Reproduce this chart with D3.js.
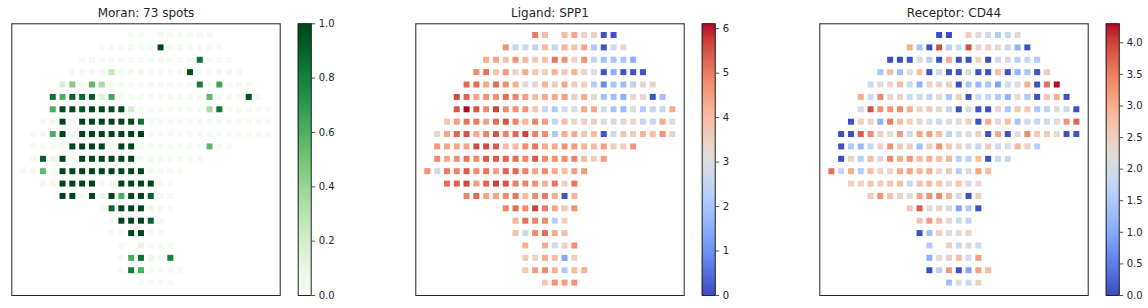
<!DOCTYPE html>
<html>
<head>
<meta charset="utf-8">
<script src="https://cdn.jsdelivr.net/npm/d3@7"></script>
<style>
  body { margin: 0; background: #fff; }
  text { font-family: "DejaVu Sans", sans-serif; fill: #262626; }
</style>
</head>
<body>
<div id="chart"></div>
<script>
// spot grid: first column of each array row (nulls are holes in the grid)
const rowStart = [11, 8, 6, 5, 4, 3, 3, 2, 1, 1, 1, 0, 2, 4, 8, 9, 9, 10, 10, 10, 12];

const L = 0.02; // background spots in the Moran map
const moranRows = [
  [L, L, null, L, L, L, L, L, L],
  [L, L, L, L, L, L, 1, L, L, L, L, L, L],
  [L, L, L, L, L, L, L, L, L, L, L, L, 0.85, L, L, L],
  [L, L, L, L, 0.25, L, L, L, L, L, L, L, 0.97, L, L, L, L, L],
  [0.18, 0.45, 0.03, 0.55, 0.35, L, L, L, L, L, L, L, L, L, 0.8, L, 0.65, L, L, L],
  [0.85, 0.6, 0.9, 0.88, 0.92, 0.15, 0.65, L, L, L, L, L, L, L, L, L, 0.55, L, L, L, 0.95, L],
  [0.6, 1, 1, 0.95, 1, 1, 0.98, 1, 0.2, L, L, L, L, L, L, L, 0.35, 0.82, L, L, L, L, L],
  [L, L, 1, 0.06, 1, 1, 1, 1, 1, 1, 0.85, L, L, L, L, L, L, L, L, L, L, L, L, L],
  [L, L, 0.6, 1, 0.06, 1, 1, 1, 1, 1, 1, 1, L, L, L, L, L, L, L, L, L, L, L, L, L],
  [L, L, L, L, 1, 1, 1, 1, L, 1, 1, L, L, L, L, L, L, L, 0.55, L, L],
  [L, 0.9, 0.08, 1, L, 1, 1, 1, 1, 1, 1, L, L, L, L, L, L, L],
  [L, L, 0.55, L, 1, 1, 1, 1, 1, 1, 1, 1, 1, L, L, L, L],
  [L, L, 1, 1, 1, 1, L, L, 1, 1, 1, 1, L, L],
  [1, 1, 0.03, 1, 0.08, 1, 0.6, 1, 1, 0.9, L, L],
  [L, 0.88, 1, 1, 1, 0.07, L, L],
  [L, 1, 1, 1, 0.9, L],
  [L, L, 1, 1, L, L],
  [L, null, 0.1, L, L, L],
  [L, 0.6, 0.85, 0.08, L, 0.8],
  [L, 0.8, 0.6, L, L, L, L],
  [L, L, L, L]
];

const ligandRows = [
  [5.0, 4.0, null, 4.0, 4.4, 3.5, 3.4, 0.1, 0.1],
  [4.7, 2.6, 2.6, 2.4, 4.0, 2.6, 4.1, 3.8, 4.4, 2.1, 0.1, 2.7, 3.2],
  [4.3, 4.4, 3.9, 4.7, 4.1, 3.7, 3.9, 5.1, 4.7, 3.5, 4.7, 2.6, 1.8, 2.0, 2.0, 1.5],
  [4.8, 5.1, 3.8, 4.6, 3.5, 4.3, 3.8, 3.6, 4.2, 3.8, 4.2, 3.5, 3.0, 0.1, 1.5, 0.1, 0.1, 0.1],
  [5.2, 5.2, 4.4, 5.2, 4.8, 4.3, 3.0, 3.2, 4.2, 3.6, 4.4, 3.6, 3.5, 2.2, 0.9, 2.0, 1.8, 2.4, 3.4, 3.4],
  [5.6, 5.3, 4.4, 4.7, 4.7, 5.2, 4.9, 4.5, 4.0, 4.3, 4.3, 4.5, 3.6, 4.3, 3.2, 1.9, 1.9, 1.5, 3.4, 3.3, 0.1, 1.9],
  [5.5, 6.1, 5.5, 4.8, 5.7, 4.8, 4.7, 4.7, 3.8, 2.6, 2.2, 2.8, 3.0, 4.3, 4.4, 2.8, 2.0, 1.7, 2.9, 2.2, 2.5, 2.6, 4.3],
  [3.7, 4.5, 5.1, 5.0, 4.5, 5.2, 5.5, 4.9, 4.1, 4.9, 4.5, 2.5, 4.0, 3.4, 3.5, 3.6, 2.9, 2.9, 3.3, 3.3, 2.6, 2.6, 4.3, 3.0],
  [3.3, 4.4, 5.3, 5.5, 4.3, 4.9, 5.5, 4.9, 5.3, 5.7, 4.9, 4.8, 2.1, 4.3, 4.3, 3.8, 4.0, 0.1, 2.8, 3.8, 3.6, 4.1, 3.9, 4.7, 3.4],
  [4.6, 4.4, 4.4, 4.4, 5.6, 5.6, 5.4, 4.0, 4.0, 4.8, 5.1, 4.3, 4.3, 4.7, 4.6, 4.2, 4.0, 4.5, 3.6, 3.6, 4.6],
  [4.8, 4.3, 4.7, 5.1, 4.8, 5.4, 5.4, 5.3, 5.2, 4.9, 5.4, 4.8, 4.7, 4.8, 4.9, 4.0, 3.6, 4.5],
  [4.7, 2.7, 5.0, 4.9, 5.4, 4.8, 5.1, 4.5, 5.3, 5.3, 4.9, 4.4, 4.8, 4.3, 4.0, 4.5, 4.6],
  [5.2, 5.3, 5.6, 4.5, 5.3, 5.7, 5.5, 4.9, 4.9, 4.7, 4.2, 5.1, 3.6, 5.1],
  [4.9, 5.3, 4.4, 4.4, 4.8, 5.1, 4.1, 4.8, 5.0, 4.3, 0.1, 4.1],
  [4.9, 5.2, 4.8, 5.7, 5.0, 4.4, 3.7, 4.7],
  [4.1, 5.1, 4.9, 4.8, 2.3, 3.5],
  [3.8, 2.7, 4.8, 5.2, 4.3, 3.9],
  [4.2, null, 4.3, 2.7, 3.5, 4.7],
  [3.6, 3.4, 4.2, 4.0, 1.4, 3.5],
  [3.7, 4.5, 4.8, 4.2, 2.1, 4.0, 4.2],
  [3.7, 4.7, 4.5, 4.7]
];

const receptorRows = [
  [0.05, 0.05, null, 2.5, 2.2, 2.0, 1.5, 1.8, 2.25],
  [3.0, 1.4, 0.05, 3.9, 1.6, 1.9, 3.9, 2.3, 2.5, 2.25, 1.85, 1.1, 0.05],
  [0.05, 0.05, 0.05, 2.1, 1.6, 0.05, 3.0, 0.05, 0.05, 2.4, 0.05, 1.9, 2.1, 1.6, 1.8, 1.5],
  [1.4, 2.8, 1.3, 2.2, 2.8, 0.05, 1.9, 0.05, 0.05, 2.1, 0.05, 0.05, 2.8, 0.05, 1.1, 1.4, 0.05, 2.6],
  [1.9, 2.2, 2.4, 2.8, 1.9, 1.1, 2.5, 2.4, 2.5, 0.05, 1.4, 1.2, 1.4, 0.9, 1.9, 2.15, 3.0, 0.05, 3.6, 4.3],
  [3.0, 1.9, 3.4, 2.4, 2.4, 1.9, 1.9, 1.7, 2.2, 1.4, 2.5, 0.05, 1.9, 1.8, 1.5, 1.1, 2.3, 1.5, 0.05, 2.6, 3.0, 0.05],
  [2.0, 3.9, 3.3, 3.3, 3.4, 3.0, 2.4, 2.6, 2.4, 1.8, 0.05, 2.1, 0.05, 0.05, 2.3, 1.4, 2.6, 2.6, 1.5, 1.7, 2.2, 1.9, 0.05],
  [0.05, 2.5, 2.4, 1.1, 3.5, 2.8, 2.5, 2.3, 2.1, 1.9, 2.1, 2.1, 2.5, 0.05, 3.0, 2.2, 2.8, 1.4, 2.0, 1.8, 1.9, 2.3, 3.3, 3.7],
  [0.05, 0.05, 3.8, 3.4, 2.5, 2.2, 3.2, 1.9, 3.1, 3.2, 2.8, 1.7, 2.0, 2.2, 2.4, 0.05, 3.1, 0.05, 2.1, 3.4, 2.6, 2.6, 2.3, 0.05, 0.05],
  [0.05, 1.5, 1.2, 1.8, 2.4, 3.3, 2.6, 2.5, 1.3, 2.5, 3.3, 2.6, 2.3, 2.15, 1.8, 2.6, 1.9, 2.1, 2.9, 2.5, 1.6],
  [0.05, 2.3, 1.6, 2.8, 2.1, 3.4, 3.0, 3.3, 2.8, 3.0, 2.8, 2.9, 1.6, 1.6, 2.8, 0.05, 1.8, 1.8],
  [3.6, 1.8, 3.0, 1.5, 2.8, 2.4, 2.4, 3.0, 3.1, 2.9, 3.0, 2.3, 2.6, 1.6, 2.1, 3.1, 2.8],
  [2.5, 2.4, 2.7, 2.5, 2.7, 2.8, 1.9, 2.7, 2.8, 2.7, 2.3, 2.7, 2.1, 2.3],
  [2.6, 3.3, 2.7, 2.4, 2.2, 3.1, 3.3, 3.4, 2.9, 2.0, 0.05, 2.5],
  [2.6, 3.8, 2.2, 2.4, 2.0, 0.9, 1.5, 0.05],
  [2.7, 3.2, 2.8, 2.25, 1.9, 1.7],
  [0.05, 1.3, 2.5, 2.2, 2.2, 2.4],
  [1.5, null, 2.5, 1.8, 2.2, 1.9],
  [1.1, 2.2, 2.5, 2.8, 2.0, 3.2],
  [0.05, 1.6, 3.2, 0.05, 0.9, 3.2, 2.8],
  [1.3, 2.1, 1.9, 2.5]
];

const titles = ["Moran: 73 spots", "Ligand: SPP1", "Receptor: CD44"];
const moranTicks = [0, 0.2, 0.4, 0.6, 0.8, 1.0];
const ligandTicks = [0, 1, 2, 3, 4, 5, 6];
const receptorTicks = [0, 0.5, 1.0, 1.5, 2.0, 2.5, 3.0, 3.5, 4.0];

// matplotlib coolwarm (Moreland table)
const coolwarmStops = [
  [59,76,192],[68,90,204],[77,104,215],[87,117,225],[98,130,234],[108,142,241],
  [119,154,247],[130,165,251],[141,176,254],[152,185,255],[163,194,255],[174,201,253],
  [184,208,249],[194,213,244],[204,217,238],[213,219,230],[221,221,221],[229,216,209],
  [236,211,197],[241,204,185],[245,196,173],[247,187,160],[247,177,148],[247,166,135],
  [244,154,123],[241,141,111],[236,127,99],[229,112,88],[222,96,77],[213,80,66],
  [203,62,56],[192,40,47],[180,4,38]
];
const coolwarm = d3.scaleLinear()
  .domain(coolwarmStops.map((d, i) => i / (coolwarmStops.length - 1)))
  .range(coolwarmStops.map(c => `rgb(${c[0]},${c[1]},${c[2]})`))
  .clamp(true);

function toSpots(rows) {
  const out = [];
  rows.forEach((vals, r) => {
    vals.forEach((v, i) => {
      if (v != null) out.push({ row: r, col: rowStart[r] + i, value: v });
    });
  });
  return out;
}

const panels = [
  { title: titles[0], spots: toSpots(moranRows), vmax: 1.0, cmap: d3.interpolateGreens, ticks: moranTicks, fmt: d3.format(".1f") },
  { title: titles[1], spots: toSpots(ligandRows), vmax: 6.11, cmap: coolwarm, ticks: ligandTicks, fmt: d3.format("d") },
  { title: titles[2], spots: toSpots(receptorRows), vmax: 4.30, cmap: coolwarm, ticks: receptorTicks, fmt: d3.format(".1f") }
];

const W = 1148, H = 308;
const axW = 269.4, axH = 271.7, axTop = 23.3;
const cbGap = 286.4, cbW = 14;
const sq = 6;

const svg = d3.select("#chart").append("svg")
  .attr("width", W).attr("height", H);
svg.append("rect").attr("width", W).attr("height", H).attr("fill", "#fff");

const defs = svg.append("defs");

panels.forEach((p, k) => {
  const left = 11.3 + k * 404;
  const g = svg.append("g").attr("transform", `translate(${left},${axTop})`);

  const x = d3.scaleLinear().domain([-1.23, 26.26]).range([0, axW]);
  const y = d3.scaleLinear().domain([-0.945, 21.0]).range([0, axH]);
  const color = d3.scaleLinear().domain([0, p.vmax]).range([0, 1]).clamp(true);

  g.selectAll("rect.spot")
    .data(p.spots)
    .enter()
    .append("rect")
    .attr("class", "spot")
    .attr("x", d => x(d.col) - sq / 2)
    .attr("y", d => y(d.row) - sq / 2)
    .attr("width", sq)
    .attr("height", sq)
    .attr("fill", d => p.cmap(color(d.value)));

  // frame
  g.append("rect")
    .attr("x", 0.5).attr("y", 0.5)
    .attr("width", axW - 1).attr("height", axH)
    .attr("fill", "none")
    .attr("stroke", "#262626")
    .attr("stroke-width", 1);

  g.append("text")
    .attr("x", axW / 2)
    .attr("y", -6)
    .attr("text-anchor", "middle")
    .attr("font-size", 12)
    .text(p.title);

  // colorbar
  const gid = "cb" + k;
  const grad = defs.append("linearGradient")
    .attr("id", gid)
    .attr("x1", 0).attr("y1", 1).attr("x2", 0).attr("y2", 0);
  d3.range(0, 1.0001, 0.05).forEach(t => {
    grad.append("stop").attr("offset", t).attr("stop-color", p.cmap(t));
  });

  const cb = g.append("g").attr("transform", `translate(${cbGap},0)`);
  cb.append("rect")
    .attr("width", cbW).attr("height", axH)
    .attr("fill", `url(#${gid})`);
  cb.append("rect")
    .attr("x", 0.5).attr("y", 0.5)
    .attr("width", cbW - 1).attr("height", axH)
    .attr("fill", "none")
    .attr("stroke", "#262626")
    .attr("stroke-width", 1);

  const cbScale = d3.scaleLinear().domain([0, p.vmax]).range([axH, 0]);
  const axis = cb.append("g")
    .attr("transform", `translate(${cbW},0)`)
    .call(d3.axisRight(cbScale).tickValues(p.ticks).tickFormat(p.fmt).tickSize(3.5).tickPadding(3.5));
  axis.select(".domain").remove();
  axis.selectAll(".tick line").attr("stroke", "#262626").attr("stroke-width", 0.8);
  axis.selectAll(".tick text")
    .attr("font-size", 10)
    .attr("font-family", "DejaVu Sans, sans-serif")
    .attr("fill", "#262626");
});
</script>
</body>
</html>
